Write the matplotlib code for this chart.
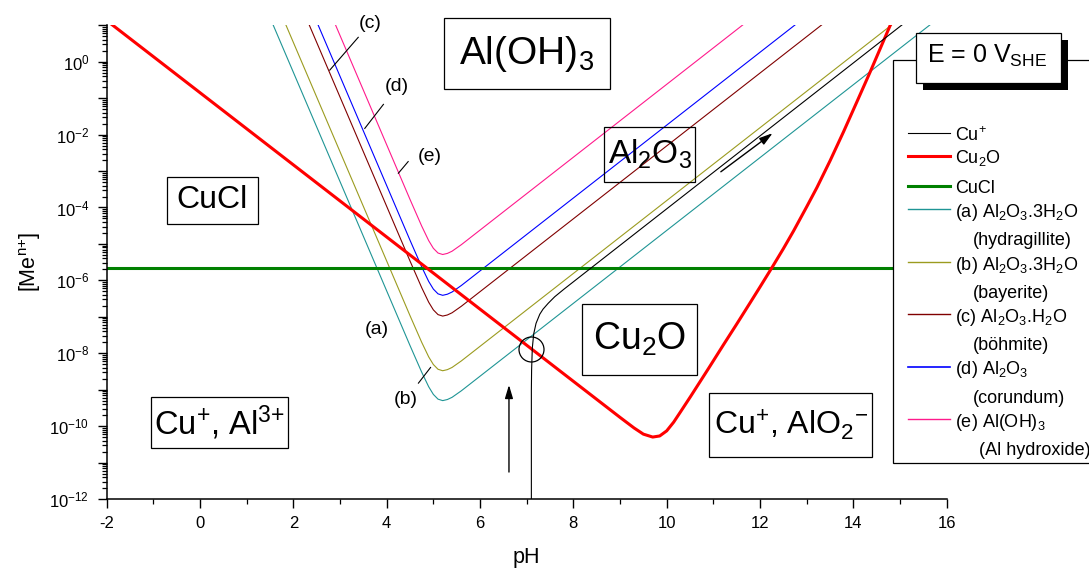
import numpy as np
import matplotlib
matplotlib.use("Agg")
import matplotlib.pyplot as plt
from matplotlib.patches import Rectangle
from matplotlib.lines import Line2D
from matplotlib.ticker import LogLocator, MultipleLocator, FuncFormatter

plt.rcParams['font.family'] = ['Liberation Sans', 'DejaVu Sans']
plt.rcParams['mathtext.default'] = 'regular'
plt.rcParams['axes.unicode_minus'] = False

# ---------------------------------------------------------------------------
#  Solubility data, log10 of concentration vs pH  (E = 0 V_SHE)
# ---------------------------------------------------------------------------

ph_cu = [7.10, 7.10, 7.105, 7.12, 7.15, 7.20, 7.28, 7.35, 7.46, 7.60, 7.80, 16.0]
log_cu = [-12.5, -9.0, -8.46, -7.86, -7.47, -7.18, -6.93, -6.79, -6.63, -6.45, -6.24, 1.97]

ph_cu2o = [-2.0, 9.0, 9.3, 9.5, 9.7, 9.85, 10.0, 10.15, 10.3, 10.51, 10.9,
           11.22, 11.5, 11.79, 12.0, 12.26, 12.5, 12.72, 13.0, 13.22, 13.5,
           13.79, 14.1, 14.36, 14.79, 15.0]
log_cu2o = [1.13, -9.76, -10.05, -10.22, -10.30, -10.27, -10.13, -9.89, -9.60,
            -9.19, -8.41, -7.76, -7.20, -6.61, -6.18, -5.64, -5.13, -4.64,
            -3.98, -3.45, -2.72, -1.92, -1.03, -0.28, 1.0, 1.62]

ph_cucl = [-2.0, 16.0]
log_cucl = [-5.65, -5.65]

ph_al = [1.0, 4.0, 4.5, 4.75, 4.9, 5.0, 5.1, 5.2, 5.3, 5.4, 5.6, 6.0, 16.5]
log_al_a = [2.71, -6.29, -7.79, -8.52, -8.92, -9.13, -9.26, -9.30, -9.27, -9.21, -9.03, -8.63, 1.87]
log_al_b = [3.53, -5.47, -6.97, -7.70, -8.10, -8.31, -8.44, -8.48, -8.45, -8.39, -8.21, -7.81, 2.69]
log_al_c = [5.03, -3.97, -5.47, -6.20, -6.60, -6.81, -6.94, -6.98, -6.95, -6.89, -6.71, -6.31, 4.19]
log_al_d = [5.60, -3.40, -4.90, -5.63, -6.03, -6.24, -6.37, -6.41, -6.38, -6.32, -6.14, -5.74, 4.76]
log_al_e = [6.72, -2.28, -3.78, -4.51, -4.91, -5.12, -5.25, -5.29, -5.26, -5.20, -5.02, -4.62, 5.88]

legend_labels = ['Cu$^{+}$', 'Cu$_2$O', 'CuCl',
                 '(a) Al$_2$O$_3$.3H$_2$O', '(b) Al$_2$O$_3$.3H$_2$O',
                 '(c) Al$_2$O$_3$.H$_2$O', '(d) Al$_2$O$_3$', '(e) Al(OH)$_3$']
legend_notes = [None, None, None, '(hydragillite)', '(bayerite)',
                '(böhmite)', '(corundum)', '(Al hydroxide)']


def conc(logs):
    return 10.0 ** np.asarray(logs, dtype=float)


W, H = 1089, 570


def fx(px):
    return px / W


def fy(py):
    return 1 - py / H


fig = plt.figure(figsize=(W / 100, H / 100), dpi=100)
ax = fig.add_axes([fx(106.7), fy(499), 840 / W, 473.7 / H])

# ---------------------------------------------------------------------------
#  Curves
# ---------------------------------------------------------------------------

al_colors = ['#1f9595', '#9b9b1f', '#800000', '#0000ff', '#ff1a8c']
al_logs = [log_al_a, log_al_b, log_al_c, log_al_d, log_al_e]
for logs, col in zip(al_logs, al_colors):
    ax.plot(ph_al, conc(logs), color=col, lw=0.8)

ax.plot(ph_cucl, conc(log_cucl), color='#008000', lw=2.2)
ax.plot(ph_cu2o, conc(log_cu2o), color='#ff0000', lw=2.2)
ax.plot(ph_cu, conc(log_cu), color='black', lw=0.8)

ax.set_yscale('log')
ax.set_xlim(-2, 16)
ax.set_ylim(1e-12, 10.0)

# ---------------------------------------------------------------------------
#  Axes styling
# ---------------------------------------------------------------------------

for side in ('top', 'right'):
    ax.spines[side].set_visible(False)
for side in ('left', 'bottom'):
    ax.spines[side].set_linewidth(1.1)

ax.xaxis.set_major_locator(MultipleLocator(2))
ax.xaxis.set_minor_locator(MultipleLocator(1))
ax.yaxis.set_major_locator(LogLocator(base=10, subs=(1.0,), numticks=30))
ax.yaxis.set_minor_locator(LogLocator(base=10, subs=np.arange(2, 10), numticks=30))


def decade_label(v, pos):
    e = int(round(np.log10(v)))
    return f'10$^{{{e}}}$' if e % 2 == 0 else ''


ax.yaxis.set_major_formatter(FuncFormatter(decade_label))
ax.yaxis.set_minor_formatter(FuncFormatter(lambda v, pos: ''))
ax.tick_params(which='major', direction='out', length=6.5, width=1.0,
               labelsize=12, pad=6)
ax.tick_params(which='minor', direction='out', length=3.5, width=0.9)

ax.set_xlabel('pH', fontsize=15.5)
ax.xaxis.set_label_coords(0.5, -0.102)
ax.set_ylabel('[Me$^{n{+}}$]', fontsize=15.5)
ax.yaxis.set_label_coords(-0.076, 0.5)

# ---------------------------------------------------------------------------
#  Region labels (boxed) and curve markers
# ---------------------------------------------------------------------------


def region_box(text, x0, x1, y0, y1, size):
    lo, hi = 10.0 ** y1, 10.0 ** y0
    ax.add_patch(Rectangle((x0, lo), x1 - x0, hi - lo, fill=False,
                           ec='black', lw=0.9, clip_on=False, zorder=3))
    ax.text((x0 + x1) / 2, 10.0 ** ((y0 + y1) / 2), text, fontsize=size,
            ha='center', va='center', clip_on=False, zorder=3)


region_box('CuCl', -0.71, 1.24, -3.16, -4.45, 23)
region_box('Al(OH)$_3$', 5.23, 8.78, 1.19, -0.75, 28)
region_box('Al$_2$O$_3$', 8.66, 10.61, -1.78, -3.31, 24)
region_box('Cu$_2$O', 8.18, 10.65, -6.65, -8.60, 27)
region_box('Cu$^{+}$, Al$^{3{+}}$', -1.06, 1.89, -9.19, -10.61, 23.5)
region_box('Cu$^{+}$, AlO$_2{}^{-}$', 10.91, 14.40, -9.10, -10.85, 23)

# letter tags with short leader lines
tags = [('(a)', 3.79, -7.36, None),
        ('(b)', 4.41, -9.26, ((4.68, -8.82), (4.94, -8.39))),
        ('(c)', 3.64, 1.05, ((3.39, 0.67), (2.78, -0.23))),
        ('(d)', 4.21, -0.67, ((3.93, -1.17), (3.53, -1.83))),
        ('(e)', 4.93, -2.61, ((4.46, -2.74), (4.25, -3.06)))]
for label, x, y, leader in tags:
    ax.text(x, 10.0 ** y, label, fontsize=14, ha='center', va='center',
            clip_on=False)
    if leader:
        (xa, ya), (xb, yb) = leader
        ax.plot([xa, xb], [10.0 ** ya, 10.0 ** yb], color='black', lw=0.8)

# marked intersection and arrows
ax.plot(7.09, 10.0 ** -7.88, marker='o', ms=18, mfc='none', mec='black', mew=0.9)
arrow = dict(arrowstyle='-|>,head_length=0.5,head_width=0.15', color='black',
             lw=1.0, mutation_scale=16, shrinkA=0, shrinkB=0)
ax.annotate('', xy=(6.62, 10.0 ** -8.87), xytext=(6.62, 10.0 ** -11.26),
            arrowprops=arrow)
ax.annotate('', xy=(12.27, 10.0 ** -1.96), xytext=(11.16, 10.0 ** -3.02),
            arrowprops=arrow)

# ---------------------------------------------------------------------------
#  Legend panel and potential tag
# ---------------------------------------------------------------------------

fig.add_artist(Rectangle((fx(893), fy(463)), 210 / W, 403 / H,
                         transform=fig.transFigure, fc='white', ec='black',
                         lw=0.9, zorder=3))
fig.add_artist(Rectangle((fx(923), fy(90)), 145 / W, 50 / H,
                         transform=fig.transFigure, fc='black', ec='none',
                         zorder=4))
fig.add_artist(Rectangle((fx(916), fy(83)), 145 / W, 50 / H,
                         transform=fig.transFigure, fc='white', ec='black',
                         lw=0.9, zorder=5))
fig.text(fx(926.7), fy(63), 'E = 0 V$_{SHE}$', fontsize=18, va='baseline',
         ha='left', zorder=6)

legend_rows = [133.3, 156, 185.7, 209.3, 262.3, 314.3, 366.7, 419.3]
legend_colors = ['black', '#ff0000', '#008000'] + al_colors
legend_widths = [0.8, 2.2, 2.2, 1.0, 1.0, 1.0, 1.2, 1.0]
note_x = [973, 973, 973, 973, 979, 973]
for i, (row, label) in enumerate(zip(legend_rows, legend_labels)):
    fig.add_artist(Line2D([fx(908), fx(950)], [fy(row), fy(row)],
                          transform=fig.transFigure, color=legend_colors[i],
                          lw=legend_widths[i], zorder=6))
    fig.text(fx(955), fy(row + 7.5), label, fontsize=13, va='baseline',
             ha='left', zorder=6)
    note = legend_notes[i]
    if note:
        fig.text(fx(note_x[i - 3]), fy(row + 36), note, fontsize=13,
                 va='baseline', ha='left', zorder=6)

fig.savefig('out.png', dpi=100)
